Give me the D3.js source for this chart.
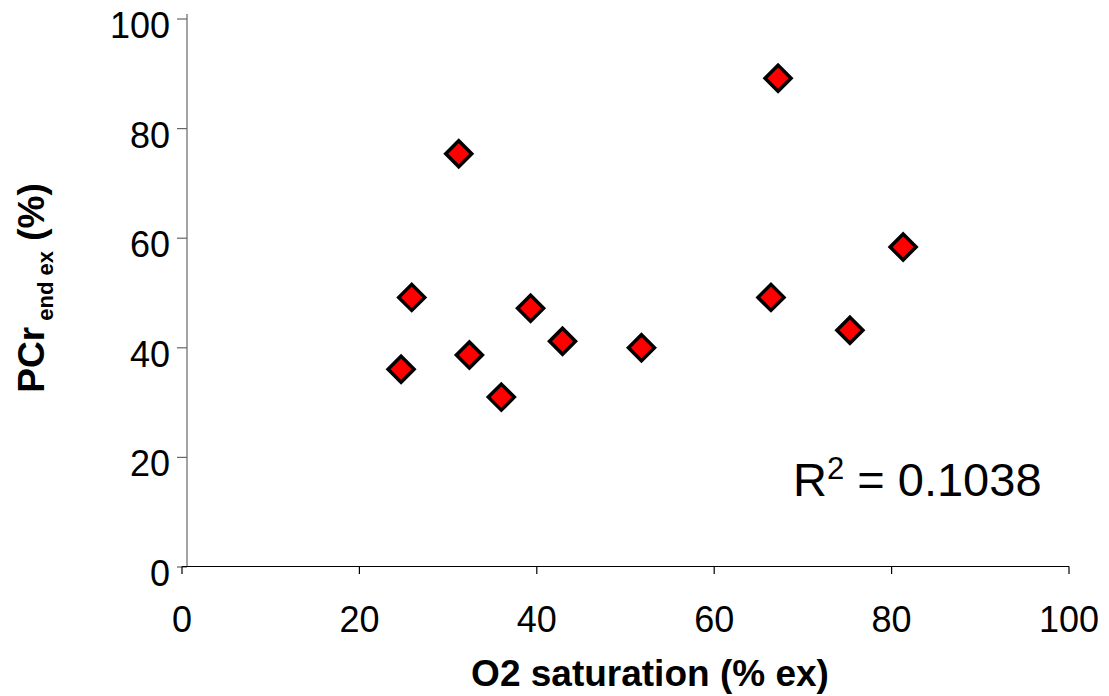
<!DOCTYPE html>
<html>
<head>
<meta charset="utf-8">
<script src="https://cdn.jsdelivr.net/npm/d3@7"></script>
<style>
  html, body { margin: 0; padding: 0; background: #fff; }
  svg { display: block; font-family: Arial, "Liberation Sans", sans-serif; }
</style>
</head>
<body>
<svg id="chart" width="1109" height="696"></svg>
<script>
// Data
const o2Saturation = [24.7, 25.9, 31.2, 32.4, 36.0, 39.3, 42.9, 51.8, 66.4, 67.2, 75.3, 81.3];
const pcrEndEx     = [36.1, 49.2, 75.4, 38.7, 31.0, 47.2, 41.2, 40.0, 49.2, 89.2, 43.2, 58.4];
const xTicks = [0, 20, 40, 60, 80, 100];
const yTicks = [0, 20, 40, 60, 80, 100];
const xTitle = "O2 saturation (% ex)";
const rSquared = "0.1038";

const svg = d3.select("#chart");
const x = d3.scaleLinear().domain([0, 100]).range([182, 1069]);
const y = d3.scaleLinear().domain([0, 100]).range([567, 19]);

// Y axis (line at x = 187)
const yAxisX = 187;
svg.append("line")
  .attr("x1", yAxisX).attr("x2", yAxisX)
  .attr("y1", y(100) - 5).attr("y2", y(0))
  .attr("stroke", "#666").attr("stroke-width", 1.2);
svg.selectAll(".ytick").data(yTicks).enter().append("line")
  .attr("x1", yAxisX - 10).attr("x2", yAxisX)
  .attr("y1", d => y(d)).attr("y2", d => y(d))
  .attr("stroke", "#666").attr("stroke-width", 1.2);
svg.selectAll(".ylab").data(yTicks).enter().append("text")
  .attr("x", 170).attr("y", d => y(d) + 19)
  .attr("text-anchor", "end")
  .attr("font-size", 36)
  .attr("fill", "#000")
  .text(d => d);

// X axis
svg.append("line")
  .attr("x1", x(0)).attr("x2", x(100))
  .attr("y1", 566.5).attr("y2", 566.5)
  .attr("stroke", "#000").attr("stroke-width", 1.2);
svg.selectAll(".xtick").data(xTicks).enter().append("line")
  .attr("x1", d => x(d)).attr("x2", d => x(d))
  .attr("y1", 566.5).attr("y2", 574)
  .attr("stroke", "#000").attr("stroke-width", 1.2);
svg.selectAll(".xlab").data(xTicks).enter().append("text")
  .attr("x", d => x(d)).attr("y", 632)
  .attr("text-anchor", "middle")
  .attr("font-size", 36)
  .attr("fill", "#000")
  .text(d => d);

// Axis titles
svg.append("text")
  .attr("x", 650).attr("y", 686)
  .attr("text-anchor", "middle")
  .attr("font-size", 37).attr("font-weight", "bold")
  .text(xTitle);

const yt = svg.append("text")
  .attr("transform", "translate(44,288) rotate(-90)")
  .attr("text-anchor", "middle")
  .attr("font-weight", "bold")
  .attr("font-size", 37);
yt.append("tspan").text("PCr");
yt.append("tspan").attr("font-size", 22).attr("dy", 9).text(" end ex");
yt.append("tspan").attr("dy", -9).text(" (%)");

// Points (diamonds)
const pts = o2Saturation.map((v, i) => ({ x: v, y: pcrEndEx[i] }));
const r = 13;
svg.selectAll(".pt").data(pts).enter().append("path")
  .attr("d", d => {
    const cx = x(d.x), cy = y(d.y);
    return `M${cx},${cy - r}L${cx + r},${cy}L${cx},${cy + r}L${cx - r},${cy}Z`;
  })
  .attr("fill", "#ff0000")
  .attr("stroke", "#000")
  .attr("stroke-width", 3.5)
  .attr("stroke-linejoin", "miter");

// R squared annotation
const rt = svg.append("text")
  .attr("x", 793).attr("y", 496)
  .attr("font-size", 47).attr("fill", "#000");
rt.append("tspan").text("R");
rt.append("tspan").attr("font-size", 31).attr("dy", -17).text("2");
rt.append("tspan").attr("dy", 17).text(" = " + rSquared);
</script>
</body>
</html>
